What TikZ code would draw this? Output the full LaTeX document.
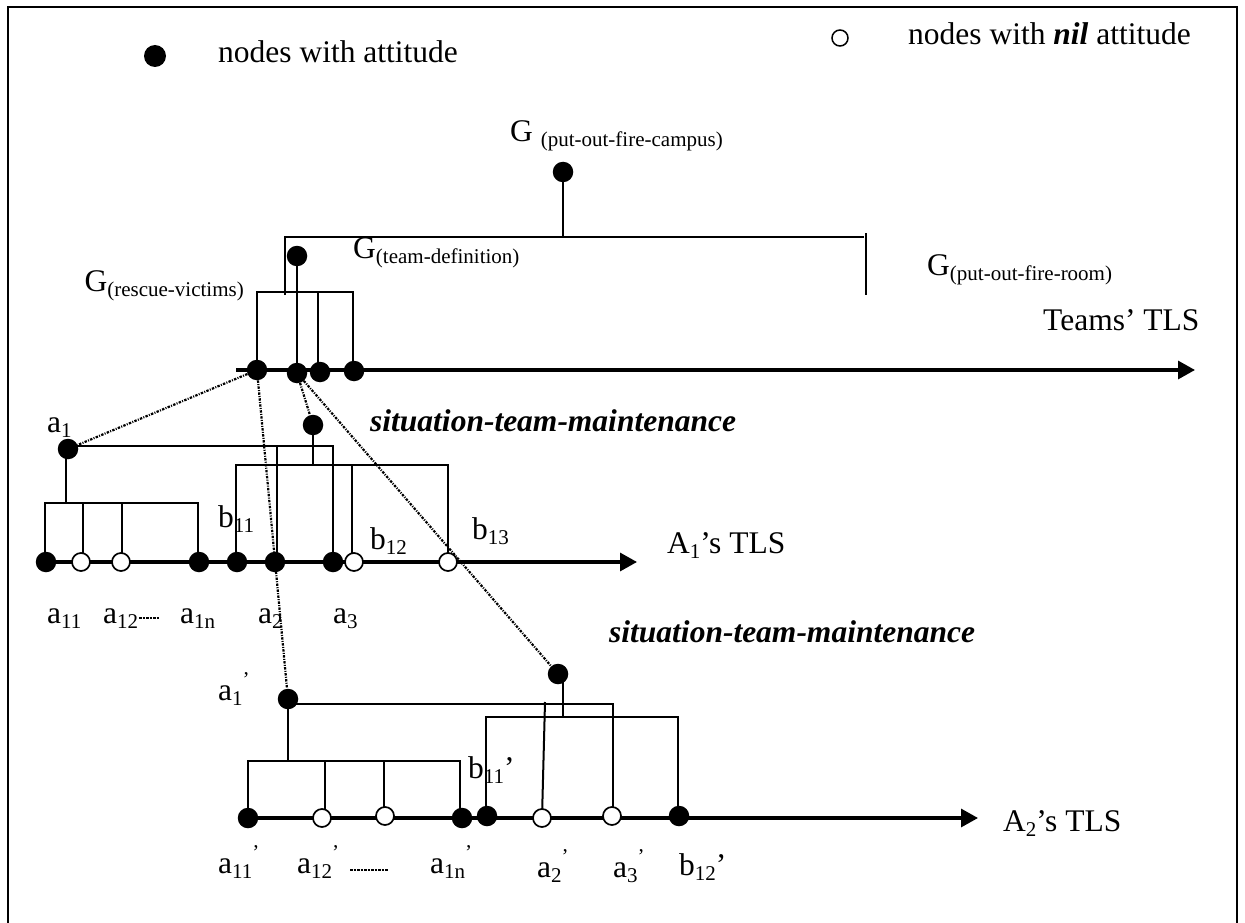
\documentclass[tikz,border=0pt]{standalone}
\usepackage{fontspec}
\setmainfont{Liberation Serif}
\usetikzlibrary{arrows.meta}
\newcommand\sbs[1]{\raisebox{-5pt}{\fontsize{21}{21}\selectfont #1}}
\newcommand\prm{\raisebox{14pt}{\fontsize{21}{21}\selectfont ’}}
\begin{document}
\begin{tikzpicture}[x=1pt,y=-1pt,
  fnode/.style={circle,fill=black,inner sep=0pt,minimum size=20.5pt},
  onode/.style={circle,draw=black,fill=white,line width=1.7pt,inner sep=0pt,minimum size=18pt},
  tree/.style={line width=2pt},
  tls/.style={line width=3.2pt,-{Triangle[length=17pt,width=18pt]}},
  link/.style={line width=2.2pt,dash pattern=on 2.4pt off 1.3pt on 1pt off 1.3pt},
  lbl/.style={inner sep=0pt,anchor=base west,font=\fontsize{31.5}{34}\selectfont},
  sit/.style={inner sep=0pt,anchor=base west,font=\fontsize{31.5}{34}\selectfont\bfseries\itshape},
  dashlbl/.style={line width=1.6pt,dash pattern=on 2.5pt off 1pt}]
\useasboundingbox (0,0) rectangle (1245,923);
\fill[white] (0,0) rectangle (1245,923);
% frame
\draw[line width=2.8pt] (8,923) -- (8,7) -- (1237,7) -- (1237,923);

% legend
\node[fnode,minimum width=19pt,minimum height=22pt] (legF) at (155,56) {};
\node[lbl] (legFt) at (218,63) {nodes with attitude};
\node[onode,minimum size=16pt,line width=1.5pt] (legO) at (840,38) {};
\node[lbl] (legOt) at (908,45) {nodes with \textbf{\textit{nil}} attitude};

% ---------- Teams' level ----------
\draw[tree] (563,172) -- (563,237);
\draw[tree] (285,295) -- (285,237) -- (864,237);
\draw[tree] (866,233) -- (866,295);
\draw[tree] (297,256) -- (297,372);
\draw[tree] (257,370) -- (257,292) -- (353,292) -- (353,370);
\draw[tree] (318,292) -- (318,370);
\draw[tls] (236,370) -- (1195,370);

\node[fnode] (gc) at (563,172) {};
\node[fnode] (gtd) at (297,256) {};
\node[fnode] (t1) at (257,370) {};
\node[fnode] (t2) at (297,373) {};
\node[fnode] (t3) at (320,372) {};
\node[fnode] (t4) at (354,371) {};

\node[lbl] (lgc) at (510,142) {G \sbs{(put-out-fire-campus)}};
\node[lbl] (lgtd) at (353,258) {G\sbs{(team-definition)}};
\node[lbl,anchor=base east] (lgrv) at (244,291) {G\sbs{(rescue-victims)}};
\node[lbl] (lgfr) at (927,275) {G\sbs{(put-out-fire-room)}};
\node[lbl] (lteam) at (1043,330) {Teams’ TLS};

% ---------- A1 level ----------
\draw[tree] (66,449) -- (66,503);
\draw[tree] (69,446) -- (333,446) -- (333,562);
\draw[tree] (277,446) -- (277,562);
\draw[tree] (45,562) -- (45,503) -- (198,503) -- (198,562);
\draw[tree] (83,503) -- (83,562);
\draw[tree] (122,503) -- (122,562);
\draw[tree] (313,425) -- (313,465);
\draw[tree] (236,562) -- (236,465) -- (448,465) -- (448,562);
\draw[tree] (352,465) -- (352,562);
\draw[tls] (38,562) -- (637,562);

\node[fnode] (a1) at (68,449) {};
\node[fnode] (s1) at (313,425) {};
\node[fnode] (a11) at (46,562) {};
\node[onode] (a12) at (81,562) {};
\node[onode] (a1x) at (121,562) {};
\node[fnode] (a1n) at (199,562) {};
\node[fnode] (b11) at (237,562) {};
\node[fnode] (a2) at (275,562) {};
\node[fnode] (a3) at (333,562) {};
\node[onode] (b12) at (354,562) {};
\node[onode] (b13) at (448,562) {};

\node[lbl] (la1) at (47,432) {a\sbs{1}};
\node[sit] (lsit1) at (370,431) {situation-team-maintenance};
\node[lbl] (lb11) at (218,527) {b\sbs{11}};
\node[lbl] (lb12) at (370,549) {b\sbs{12}};
\node[lbl] (lb13) at (472,539) {b\sbs{13}};
\node[lbl] (lA1) at (667,553) {A\sbs{1}’s TLS};
\node[lbl] (la11) at (47,623) {a\sbs{11}};
\node[lbl] (la12) at (103,623) {a\sbs{12}};
\draw[dashlbl] (139,618) -- (159,618);
\node[lbl] (la1n) at (180,623) {a\sbs{1n}};
\node[lbl] (la2) at (258,623) {a\sbs{2}};
\node[lbl] (la3) at (333,623) {a\sbs{3}};

% ---------- A2 level ----------
\draw[tree] (288,699) -- (288,761);
\draw[tree] (288,704) -- (613,704) -- (613,818);
\draw[tree] (248,818) -- (248,761) -- (460,761) -- (460,818);
\draw[tree] (325,761) -- (325,818);
\draw[tree] (384,761) -- (384,818);
\draw[tree] (563,674) -- (563,717);
\draw[tree] (486,818) -- (486,717) -- (678,717) -- (678,818);
\draw[tree] (545,702) -- (542,818);
\draw[tls] (238,818) -- (978,818);

\node[fnode] (a1p) at (288,699) {};
\node[fnode] (s2) at (558,674) {};
\node[fnode] (a11p) at (248,818) {};
\node[onode] (a12p) at (322,818) {};
\node[onode] (a1xp) at (385,816) {};
\node[fnode] (a1np) at (462,818) {};
\node[fnode] (b11p) at (487,816) {};
\node[onode] (a2p) at (542,818) {};
\node[onode] (a3p) at (612,816) {};
\node[fnode] (b12p) at (679,816) {};

\node[lbl] (la1p) at (218,700) {a\sbs{1}\prm};
\node[sit] (lsit2) at (609,642) {situation-team-maintenance};
\node[lbl] (lb11p) at (468,778) {b\sbs{11}’};
\node[lbl] (la11p) at (218,873) {a\sbs{11}\prm};
\node[lbl] (la12p) at (297,873) {a\sbs{12}\prm};
\draw[dashlbl] (350,870) -- (388,870);
\node[lbl] (la1np) at (430,873) {a\sbs{1n}\prm};
\node[lbl] (la2p) at (537,877) {a\sbs{2}\prm};
\node[lbl] (la3p) at (613,877) {a\sbs{3}\prm};
\node[lbl] (lb12p) at (679,875) {b\sbs{12}’};
\node[lbl] (lA2) at (1003,831) {A\sbs{2}’s TLS};

% ---------- dotted links ----------
\draw[link] (t1) -- (a1);
\draw[link] (t1) -- (a1p);
\draw[link] (t2) -- (s1);
\draw[link] (t2) -- (s2);
\end{tikzpicture}
\end{document}
